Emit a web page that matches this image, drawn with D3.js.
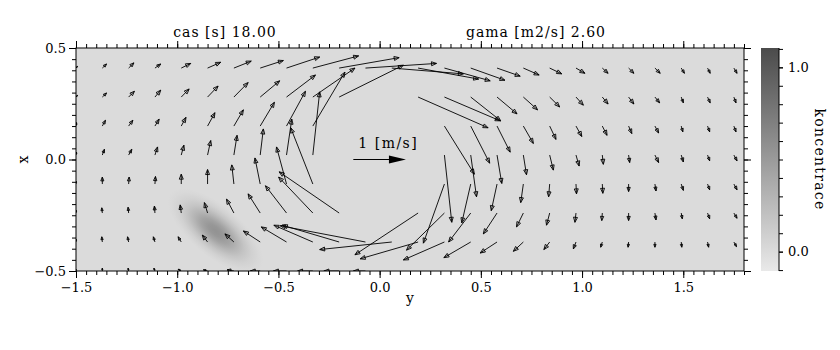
<!DOCTYPE html>
<html>
<head>
<meta charset="utf-8">
<script src="https://d3js.org/d3.v7.min.js"></script>
<style>
  body { margin: 0; background: #fff; }
  text { font-family: "DejaVu Serif", serif; fill: #000; }
  .tick text { font-family: "DejaVu Serif", serif; font-size: 13px; }
</style>
</head>
<body>
<svg width="840" height="350"></svg>
<script>
// grid nodes (data units): gridY along the horizontal axis, gridX along the vertical one
var gridY = [-1.5, -1.37, -1.24, -1.11, -0.98, -0.85, -0.72, -0.59, -0.46, -0.33, -0.2, -0.07, 0.06,
             0.19, 0.32, 0.45, 0.58, 0.71, 0.84, 0.97, 1.1, 1.23, 1.36, 1.49, 1.62, 1.75];
var gridX = [-0.5, -0.37, -0.24, -0.11, 0.02, 0.15, 0.28, 0.41];

// velocity [m/s], one row per gridX (bottom row first); null = no arrow drawn
var velU = [
  [0, 0, -0.01, -0.02, -0.06, -0.08, -0.13, -0.19, -0.25, -0.29, -0.29, -0.23, null, null, null, null, null, null, null, null, null, null, null, null, null, null],
  [0, -0.01, -0.02, -0.03, -0.06, -0.10, -0.17, -0.32, -0.48, -0.74, -1.08, -1.62, -1.37, -1.10, -0.78, -0.51, -0.32, -0.19, -0.11, -0.05, -0.03, -0.01, 0, 0.01, 0.02, 0.05],
  [0, -0.01, -0.01, -0.01, -0.02, -0.06, -0.14, -0.23, -0.40, -0.65, -1.14, null, null, -1.20, -0.72, -0.42, -0.26, -0.13, -0.06, -0.02, -0.01, 0, 0.02, 0.02, 0.04, 0.06],
  [0, 0, 0.01, 0.01, 0, 0, -0.04, -0.10, -0.19, -0.42, null, null, null, null, -0.40, -0.17, -0.11, -0.05, -0.02, 0.01, 0.01, 0, 0.02, 0.04, 0.04, 0.06],
  [0.01, 0.04, 0.06, 0.05, 0.05, 0.06, 0.06, 0.06, 0.10, 0.13, null, null, null, null, 0.14, 0.11, 0.09, 0.06, 0.07, 0.06, 0.02, 0.02, 0.07, 0.04, 0.04, 0.06],
  [0.01, 0.06, 0.08, 0.08, 0.09, 0.14, 0.18, 0.27, 0.36, 0.61, null, null, null, null, 0.57, 0.36, 0.25, 0.19, 0.12, 0.11, 0.09, 0.06, 0.07, 0.03, 0.04, 0.04],
  [0.03, 0.08, 0.11, 0.11, 0.15, 0.20, 0.27, 0.37, 0.55, 0.80, 1.22, null, null, 1.33, 1.06, 0.57, 0.38, 0.27, 0.19, 0.14, 0.11, 0.10, 0.09, 0.04, 0.05, 0.04],
  [0.03, 0.08, 0.10, 0.11, 0.18, 0.25, 0.33, 0.44, 0.63, 0.87, 1.14, 1.35, 1.36, 1.15, 0.87, 0.65, 0.44, 0.30, 0.23, 0.17, 0.11, 0.10, 0.10, 0.06, 0.05, 0.06]
];
var velV = [
  [0.03, 0.05, 0.05, 0.05, 0.03, 0.02, 0.02, 0, 0, 0, 0, 0, null, null, null, null, null, null, null, null, null, null, null, null, null, null],
  [0.05, 0.09, 0.09, 0.09, 0.09, 0.12, 0.14, 0.19, 0.26, 0.29, 0.29, 0.28, -0.13, -0.29, -0.31, -0.27, -0.19, -0.16, -0.13, -0.12, -0.09, -0.09, -0.09, -0.09, -0.09, -0.08],
  [0.05, 0.09, 0.10, 0.12, 0.14, 0.18, 0.24, 0.33, 0.47, 0.62, 0.71, null, null, -0.72, -0.64, -0.50, -0.36, -0.24, -0.21, -0.16, -0.13, -0.13, -0.12, -0.10, -0.10, -0.09],
  [0.05, 0.12, 0.12, 0.13, 0.17, 0.25, 0.33, 0.45, 0.64, 0.97, null, null, null, null, -1.02, -0.67, -0.46, -0.32, -0.22, -0.17, -0.16, -0.13, -0.12, -0.11, -0.10, -0.10],
  [0.05, 0.10, 0.10, 0.14, 0.17, 0.25, 0.34, 0.45, 0.62, 1.09, null, null, null, null, -1.16, -0.72, -0.49, -0.34, -0.26, -0.19, -0.16, -0.13, -0.13, -0.12, -0.10, -0.10],
  [0.06, 0.10, 0.10, 0.12, 0.15, 0.23, 0.28, 0.41, 0.60, 0.93, null, null, null, null, -0.83, -0.64, -0.45, -0.30, -0.23, -0.18, -0.16, -0.13, -0.12, -0.10, -0.10, -0.10],
  [0.03, 0.07, 0.10, 0.12, 0.14, 0.19, 0.25, 0.28, 0.38, 0.50, 0.55, null, null, -0.53, -0.41, -0.41, -0.29, -0.22, -0.17, -0.14, -0.12, -0.12, -0.10, -0.10, -0.10, -0.10],
  [0.03, 0.07, 0.09, 0.07, 0.08, 0.10, 0.12, 0.13, 0.19, 0.21, 0.18, 0.08, -0.10, -0.19, -0.22, -0.21, -0.14, -0.12, -0.10, -0.09, -0.09, -0.09, -0.09, -0.09, -0.09, -0.09]
];
var vecScale = 0.26;          // data units per 1 m/s
var legendVel = 1;            // the "1 [m/s]" reference arrow
var legendPos = [-0.13, 0.0];

// concentration blob (data units)
var blobCenter = [-0.81, -0.32];
var blobLong = 0.29, blobShort = 0.125, blobAngle = 40, blobPeak = 0.56;

var xMajor = [-1.5, -1.0, -0.5, 0.0, 0.5, 1.0, 1.5];
var yMajor = [-0.5, 0.0, 0.5];
var cbLabels = [0.0, 1.0];
var cbMinor = [-0.1, 0, 0.1, 0.2, 0.3, 0.4, 0.5, 0.6, 0.7, 0.8, 0.9, 1.0, 1.1];
var titles = ["cas [s] 18.00", "gama [m2/s] 2.60"];

var sx = d3.scaleLinear().domain([-1.5, 1.8]).range([76, 744]);
var sy = d3.scaleLinear().domain([-0.5, 0.5]).range([271, 48]);
var sc = d3.scaleLinear().domain([-0.105, 1.105]).range([271, 48]);
function gray(v) {
    var g = Math.round(Math.max(0, Math.min(255, 219 - 130 * v)));
    return d3.rgb(g, g, g).toString();
}

var svg = d3.select("svg");
svg.append("rect").attr("width", 840).attr("height", 350).attr("fill", "#fff");
var defs = svg.append("defs");

defs.append("clipPath").attr("id", "plotClip").append("rect")
    .attr("x", sx(-1.5)).attr("y", sy(0.5))
    .attr("width", sx(1.8) - sx(-1.5)).attr("height", sy(-0.5) - sy(0.5));

// background = concentration 0
svg.append("rect")
    .attr("x", sx(-1.5)).attr("y", sy(0.5))
    .attr("width", sx(1.8) - sx(-1.5)).attr("height", sy(-0.5) - sy(0.5))
    .attr("fill", gray(0));

var plot = svg.append("g").attr("clip-path", "url(#plotClip)");

// gaussian-ish blob
var bgrad = defs.append("radialGradient").attr("id", "blobGrad");
[[0, 1], [0.15, 0.93], [0.3, 0.76], [0.45, 0.52], [0.6, 0.3], [0.75, 0.14], [0.9, 0.04], [1, 0]].forEach(function(s) {
    bgrad.append("stop").attr("offset", s[0]).attr("stop-color", gray(blobPeak)).attr("stop-opacity", s[1]);
});
plot.append("ellipse")
    .attr("cx", 0).attr("cy", 0)
    .attr("rx", sx(blobCenter[0] + blobLong) - sx(blobCenter[0]))
    .attr("ry", sx(blobCenter[0] + blobShort) - sx(blobCenter[0]))
    .attr("transform", "translate(" + sx(blobCenter[0]) + "," + sy(blobCenter[1]) + ") rotate(" + blobAngle + ")")
    .attr("fill", "url(#blobGrad)");

// velocity arrows, tail at the grid node
function arrowPath(x0, y0, x1, y1) {
    var dx = x1 - x0, dy = y1 - y0, len = Math.hypot(dx, dy);
    if (len < 0.5) return "";
    var h = Math.min(5, len * 0.55), w = h * 0.4;
    var ux = dx / len, uy = dy / len;
    var bx = x1 - ux * h, by = y1 - uy * h;
    return "M" + x0 + "," + y0 + "L" + x1 + "," + y1 +
        "M" + x1 + "," + y1 + "L" + (bx - uy * w) + "," + (by + ux * w) +
        "L" + (bx + uy * w) + "," + (by - ux * w) + "Z";
}
var arrows = [];
gridX.forEach(function(x, k) {
    gridY.forEach(function(y, j) {
        var u = velU[k][j], v = velV[k][j];
        if (u === null || v === null) return;
        arrows.push([sx(y), sy(x), sx(y + u * vecScale), sy(x + v * vecScale)]);
    });
});
plot.selectAll("path.vec")
    .data(arrows)
    .enter()
    .append("path")
    .attr("class", "vec")
    .attr("d", function(d) { return arrowPath(d[0], d[1], d[2], d[3]); })
    .attr("fill", "none")
    .attr("stroke", "#000")
    .attr("stroke-width", 0.9);

// reference arrow
var lx0 = sx(legendPos[0]), lx1 = sx(legendPos[0] + legendVel * vecScale), ly = sy(legendPos[1]);
svg.append("line").attr("x1", lx0).attr("y1", ly).attr("x2", lx1 - 10).attr("y2", ly)
    .attr("stroke", "#000").attr("stroke-width", 1);
svg.append("path")
    .attr("d", "M" + lx1 + "," + ly + "L" + (lx1 - 17) + "," + (ly - 4) + "L" + (lx1 - 17) + "," + (ly + 4) + "Z")
    .attr("fill", "#000");
svg.append("text")
    .attr("x", lx0 + 5).attr("y", sy(0.05))
    .style("font-size", "14px").style("letter-spacing", "1.5px")
    .text(legendVel + " [m/s]");

// axes
function styleAxis(g) {
    g.select(".domain").remove();
    g.selectAll(".tick line").attr("stroke", "#000");
}
var fmt = d3.format(".1f");
svg.append("g").attr("transform", "translate(0," + sy(-0.5) + ")")
    .call(d3.axisBottom(sx).tickValues(sx.ticks(66)).tickSize(4).tickFormat("")).call(styleAxis);
svg.append("g").attr("transform", "translate(0," + sy(-0.5) + ")")
    .call(d3.axisBottom(sx).tickValues(xMajor).tickSize(7).tickPadding(5).tickFormat(fmt)).call(styleAxis);
svg.append("g").attr("transform", "translate(0," + sy(0.5) + ")")
    .call(d3.axisTop(sx).tickValues(sx.ticks(66)).tickSize(4).tickFormat("")).call(styleAxis);
svg.append("g").attr("transform", "translate(0," + sy(0.5) + ")")
    .call(d3.axisTop(sx).tickValues(xMajor).tickSize(7).tickFormat("")).call(styleAxis);
svg.append("g").attr("transform", "translate(" + sx(-1.5) + ",0)")
    .call(d3.axisLeft(sy).tickValues(sy.ticks(20)).tickSize(4).tickFormat("")).call(styleAxis);
svg.append("g").attr("transform", "translate(" + sx(-1.5) + ",0)")
    .call(d3.axisLeft(sy).tickValues(yMajor).tickSize(7).tickFormat(fmt)).call(styleAxis);
svg.append("g").attr("transform", "translate(" + sx(1.8) + ",0)")
    .call(d3.axisRight(sy).tickValues(sy.ticks(20)).tickSize(4).tickFormat("")).call(styleAxis);
svg.append("g").attr("transform", "translate(" + sx(1.8) + ",0)")
    .call(d3.axisRight(sy).tickValues(yMajor).tickSize(7).tickFormat("")).call(styleAxis);

svg.append("rect")
    .attr("x", sx(-1.5)).attr("y", sy(0.5))
    .attr("width", sx(1.8) - sx(-1.5)).attr("height", sy(-0.5) - sy(0.5))
    .attr("fill", "none").attr("stroke", "#000").attr("stroke-width", 1);

// titles and axis names
svg.append("text").attr("x", 225).attr("y", 37).attr("text-anchor", "middle")
    .style("font-size", "14px").style("letter-spacing", "1px").text(titles[0]);
svg.append("text").attr("x", 536).attr("y", 37).attr("text-anchor", "middle")
    .style("font-size", "14px").style("letter-spacing", "1px").text(titles[1]);
svg.append("text").attr("x", (sx(-1.5) + sx(1.8)) / 2).attr("y", 303).attr("text-anchor", "middle")
    .style("font-size", "14px").text("y");
svg.append("text").attr("transform", "translate(28," + sy(0) + ") rotate(-90)").attr("text-anchor", "middle")
    .style("font-size", "14px").text("x");

// colorbar
var cbX = 761, cbW = 18;
var cgrad = defs.append("linearGradient").attr("id", "cbGrad")
    .attr("x1", 0).attr("y1", 1).attr("x2", 0).attr("y2", 0);
cgrad.append("stop").attr("offset", 0).attr("stop-color", gray(sc.domain()[0]));
cgrad.append("stop").attr("offset", 1).attr("stop-color", gray(sc.domain()[1]));
svg.append("rect").attr("x", cbX).attr("y", sc(sc.domain()[1]))
    .attr("width", cbW).attr("height", sc(sc.domain()[0]) - sc(sc.domain()[1]))
    .attr("fill", "url(#cbGrad)");
svg.append("g").attr("transform", "translate(" + (cbX + cbW) + ",0)")
    .call(d3.axisRight(sc).tickValues(cbMinor).tickSize(4).tickFormat("")).call(styleAxis);
svg.append("g").attr("transform", "translate(" + (cbX + cbW) + ",0)")
    .call(d3.axisRight(sc).tickValues(cbLabels).tickSize(4).tickPadding(5).tickFormat(fmt)).call(styleAxis);
svg.append("line").attr("x1", cbX + cbW).attr("x2", cbX + cbW)
    .attr("y1", sc(sc.domain()[1])).attr("y2", sc(sc.domain()[0])).attr("stroke", "#000");
svg.append("text").attr("transform", "translate(815," + sy(0) + ") rotate(90)").attr("text-anchor", "middle")
    .style("font-size", "14px").style("letter-spacing", "1.3px").text("koncentrace");
</script>
</body>
</html>
